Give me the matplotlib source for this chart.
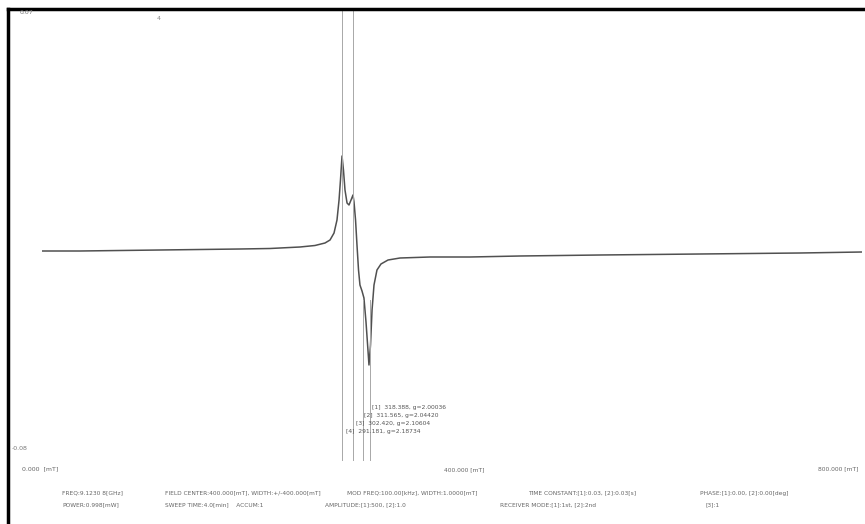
import matplotlib
matplotlib.use("Agg")
import matplotlib.pyplot as plt
from matplotlib.lines import Line2D

# ---- data ----
field_mT = [0.0, 37.1, 76.1, 115.1, 154.1, 193.2, 222.4, 251.7, 266.3, 276.1,
            281.0, 284.9, 287.8, 289.8, 291.2, 292.7, 294.1, 295.6, 297.6, 299.5,
            301.5, 303.4, 304.4, 305.9, 307.3, 308.8, 310.2, 312.2, 314.1, 316.1,
            318.0, 319.0, 320.5, 322.0, 323.9, 326.8, 330.7, 337.6, 349.3, 378.5,
            417.6, 466.3, 544.4, 642.0, 739.5, 800.0]
intensity = [-0.01, -0.01, -0.005, 0.0, 0.005, 0.01, 0.015, 0.03, 0.045, 0.07,
             0.10, 0.17, 0.30, 0.50, 0.70, 0.94, 0.80, 0.60, 0.47, 0.45,
             0.50, 0.55, 0.48, 0.30, 0.05, -0.20, -0.35, -0.41, -0.48, -0.72,
             -1.00, -1.15, -0.95, -0.60, -0.35, -0.20, -0.14, -0.10, -0.08, -0.07,
             -0.07, -0.06, -0.05, -0.04, -0.03, -0.02]

marker_fields = [292.7, 303.4, 313.2, 320.0]
marker_labels = ["[4]  291.181, g=2.18734", "[3]  302.420, g=2.10604",
                 "[2]  311.565, g=2.04420", "[1]  318.388, g=2.00036"]

y_top_label = "0.07"
y_bottom_label = "-0.08"
x_tick_labels = ["0.000  [mT]", "400.000 [mT]", "800.000 [mT]"]
param_row1 = [("FREQ:9.1230 8[GHz]", 62), ("FIELD CENTER:400.000[mT], WIDTH:+/-400.000[mT]", 165),
              ("MOD FREQ:100.00[kHz], WIDTH:1.0000[mT]", 347),
              ("TIME CONSTANT:[1]:0.03, [2]:0.03[s]", 528), ("PHASE:[1]:0.00, [2]:0.00[deg]", 700)]
param_row2 = [("POWER:0.998[mW]", 62), ("SWEEP TIME:4.0[min]    ACCUM:1", 165),
              ("AMPLITUDE:[1]:500, [2]:1.0", 325), ("RECEIVER MODE:[1]:1st, [2]:2nd", 500),
              ("[3]:1", 705)]

W, H = 865, 524
fig = plt.figure(figsize=(W / 100, H / 100), dpi=100)
fig.patch.set_facecolor("white")

def fx(px):
    return px / W

def fy(py):
    return 1 - py / H

# axes: x pixels 42..862 -> 0..800 mT ; y pixels 0..524 -> 2.50..-2.74
ax = fig.add_axes([fx(42), 0, (862 - 42) / W, 1])
ax.set_xlim(0, 800)
ax.set_ylim(-2.74, 2.50)
ax.axis("off")

ax.plot(field_mT, intensity, color="#505050", lw=1.1)

for i, f in enumerate(marker_fields):
    top = 2.40 if i < 2 else -0.50
    ax.plot([f, f], [top, -2.10], color="#a8a8a8", lw=0.7, clip_on=False)

# marker labels (staircase)
lab_pos = [(346, 432), (356, 424), (364, 416), (372, 408)]
for (px, py), t in zip(lab_pos, marker_labels):
    fig.text(fx(px), fy(py), t, fontsize=4.3, color="#555555", va="center", ha="left")

# frame (scan border)
fig.add_artist(Line2D([fx(8), fx(8)], [fy(9), 0], color="black", lw=2.5))
fig.add_artist(Line2D([fx(8), 1], [fy(9), fy(9)], color="black", lw=2.5))

# axis value labels
fig.text(fx(20), fy(13), y_top_label, fontsize=4.5, color="#777777", va="center")
fig.text(fx(12), fy(449), y_bottom_label, fontsize=4.5, color="#777777", va="center")
fig.text(fx(157), fy(18), "4", fontsize=4.5, color="#888888", va="center")
fig.text(fx(22), fy(469), x_tick_labels[0], fontsize=4.5, color="#666666", va="center")
fig.text(fx(444), fy(470), x_tick_labels[1], fontsize=4.3, color="#666666", va="center")
fig.text(fx(818), fy(469), x_tick_labels[2], fontsize=4.3, color="#666666", va="center")

for t, px in param_row1:
    fig.text(fx(px), fy(493), t, fontsize=4.2, color="#666666", va="center")
for t, px in param_row2:
    fig.text(fx(px), fy(505), t, fontsize=4.2, color="#666666", va="center")

fig.savefig("out.png", dpi=100, facecolor="white")
